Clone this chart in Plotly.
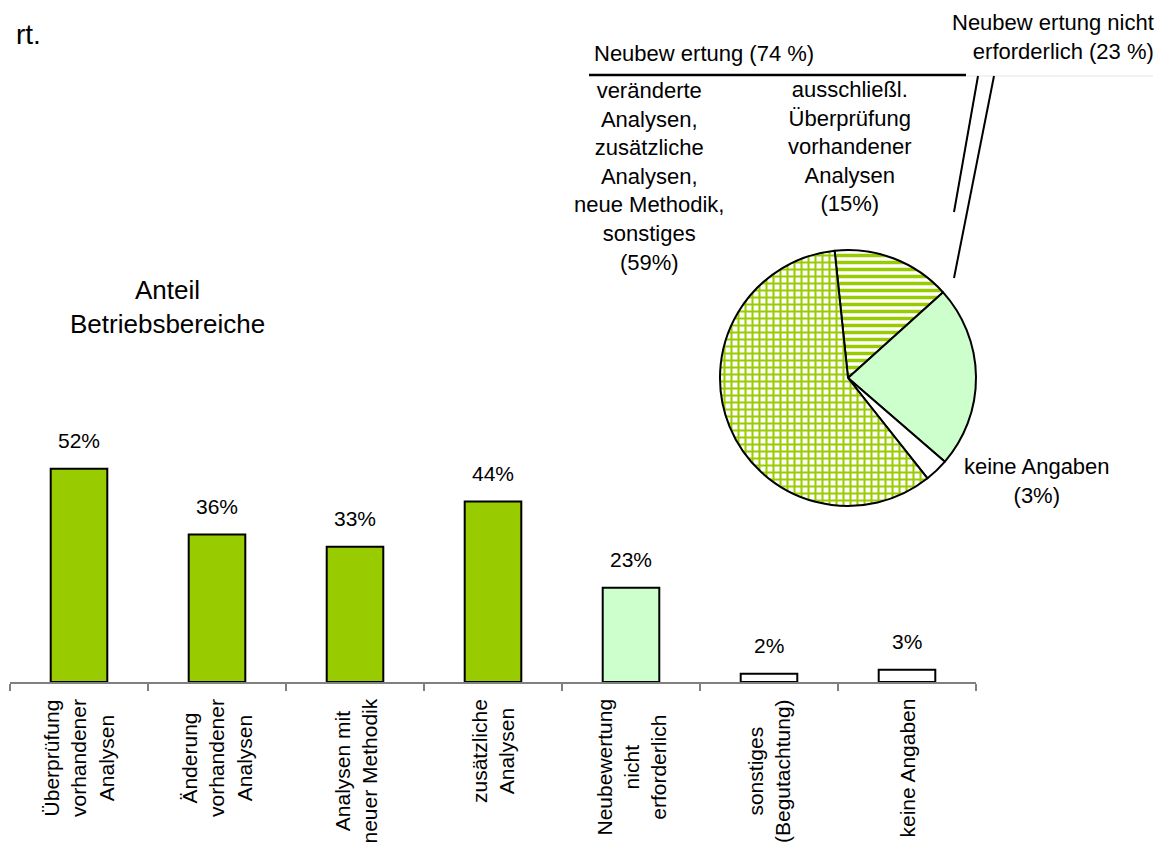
import plotly.graph_objects as go

# ---------------- data ----------------
bar_labels = [
    "Überprüfung<br>vorhandener<br>Analysen",
    "Änderung<br>vorhandener<br>Analysen",
    "Analysen mit<br>neuer Methodik",
    "zusätzliche<br>Analysen",
    "Neubewertung<br>nicht<br>erforderlich",
    "sonstiges<br>(Begutachtung)",
    "keine Angaben",
]
bar_values = [52, 36, 33, 44, 23, 2, 3]

pie_labels = [
    "ausschließl. Überprüfung vorhandener Analysen",
    "Neubewertung nicht erforderlich",
    "keine Angaben",
    "veränderte Analysen, zusätzliche Analysen, neue Methodik, sonstiges",
]
pie_values = [15, 23, 3, 59]

# ---------------- styling helpers ----------------
W, H = 1174, 843
FONT = "Liberation Sans, Arial, sans-serif"
GREEN = "#99CC00"
LIGHT = "#CCFFCC"


def px(x):
    return x / W


def py(y):
    return (H - y) / H


bar_colors = [GREEN, GREEN, GREEN, GREEN, LIGHT, "white", "white"]
bar_shapes = ["", "", "", "", "", "/", ""]

fig = go.Figure()

fig.add_trace(go.Bar(
    x=list(range(len(bar_values))),
    y=bar_values,
    width=0.41,
    marker=dict(
        color=bar_colors,
        line=dict(color="black", width=2),
        pattern=dict(shape=bar_shapes, fgcolor=GREEN, bgcolor="white",
                     size=8, solidity=0.6, fillmode="replace"),
    ),
    hoverinfo="skip",
    showlegend=False,
))

pie_fill = ["white", LIGHT, "white", "white"]
pie_shapes = ["-", "", "", "+"]
cx, cy, r = 848, 378, 128
fig.add_trace(go.Pie(
    labels=pie_labels,
    values=pie_values,
    sort=False,
    direction="clockwise",
    rotation=-6,
    textinfo="none",
    hoverinfo="skip",
    showlegend=False,
    marker=dict(
        colors=pie_fill,
        line=dict(color="black", width=2),
        pattern=dict(shape=pie_shapes, fgcolor=GREEN, bgcolor="white",
                     size=7, solidity=0.5, fillmode="replace"),
    ),
    domain=dict(x=[px(cx - r), px(cx + r)], y=[py(cy + r), py(cy - r)]),
))

annotations = []
# bar value labels
for i, v in enumerate(bar_values):
    annotations.append(dict(
        x=i, y=v, xref="x", yref="y", text=f"{v}%", showarrow=False,
        yanchor="middle", yshift=28, font=dict(size=21, color="black", family=FONT),
    ))
# rotated category labels
for i, lab in enumerate(bar_labels):
    annotations.append(dict(
        x=i, y=py(697), xref="x", yref="paper", text=lab, showarrow=False,
        textangle=-90, xanchor="center", yanchor="top", align="center",
        font=dict(size=21, color="black", family=FONT),
    ))

total = sum(pie_values)
p_ueber, p_nicht, p_keine, p_ver = [round(100 * v / total) for v in pie_values]

text_items = [
    ("Anteil<br>Betriebsbereiche", 167, 307, 26, "center", "center"),
    (f"Neubew ertung ({p_ueber + p_ver} %)", 704, 53, 22, "center", "center"),
    (f"Neubew ertung nicht<br>erforderlich ({p_nicht} %)", 1156, 37, 22, "right", "right"),
    (f"veränderte<br>Analysen,<br>zusätzliche<br>Analysen,<br>neue Methodik,<br>sonstiges<br>({p_ver}%)",
     649, 176, 22, "center", "center"),
    (f"ausschließl.<br>Überprüfung<br>vorhandener<br>Analysen<br>({p_ueber}%)",
     850, 146, 22, "center", "center"),
    (f"keine Angaben<br>({p_keine}%)", 1037, 481, 22, "center", "center"),
    ("rt.", 28, 35, 28, "center", "center"),
]
for txt, x, y, size, xa, al in text_items:
    annotations.append(dict(
        x=px(x), y=py(y), xref="paper", yref="paper", text=txt, showarrow=False,
        xanchor=xa, yanchor="middle", align=al,
        font=dict(size=size, color="black", family=FONT),
    ))

shapes = [
    dict(type="line", xref="paper", yref="paper", x0=px(589), y0=py(75), x1=px(966), y1=py(75),
         line=dict(color="black", width=2.5)),
    dict(type="line", xref="paper", yref="paper", x0=px(966), y0=py(76), x1=px(1153), y1=py(76),
         line=dict(color="#e4e4e4", width=1)),
    dict(type="line", xref="paper", yref="paper", x0=px(978), y0=py(76), x1=px(954), y1=py(212),
         line=dict(color="black", width=2)),
    dict(type="line", xref="paper", yref="paper", x0=px(994), y0=py(76), x1=px(954), y1=py(278),
         line=dict(color="black", width=2)),
]

n = len(bar_values)
fig.update_layout(
    width=W, height=H,
    margin=dict(l=0, r=0, t=0, b=0),
    paper_bgcolor="white", plot_bgcolor="rgba(0,0,0,0)",
    font=dict(family=FONT, color="black"),
    xaxis=dict(
        domain=[px(10), px(976)], range=[-0.5, n - 0.5],
        tickvals=[i - 0.5 for i in range(n + 1)], ticks="outside", ticklen=7,
        tickcolor="#808080", tickwidth=1.5, showticklabels=False,
        showline=True, linecolor="#808080", linewidth=1.5,
        showgrid=False, zeroline=False, fixedrange=True,
    ),
    yaxis=dict(
        domain=[py(682), py(100)], range=[0, 582 / 4.1],
        visible=False, showgrid=False, zeroline=False, fixedrange=True,
    ),
    annotations=annotations,
    shapes=shapes,
    bargap=0,
)

fig.write_html(
    "out.html",
    config={"displayModeBar": False, "staticPlot": True},
    post_script="document.body.style.margin='0px';document.body.style.overflow='hidden';",
)
